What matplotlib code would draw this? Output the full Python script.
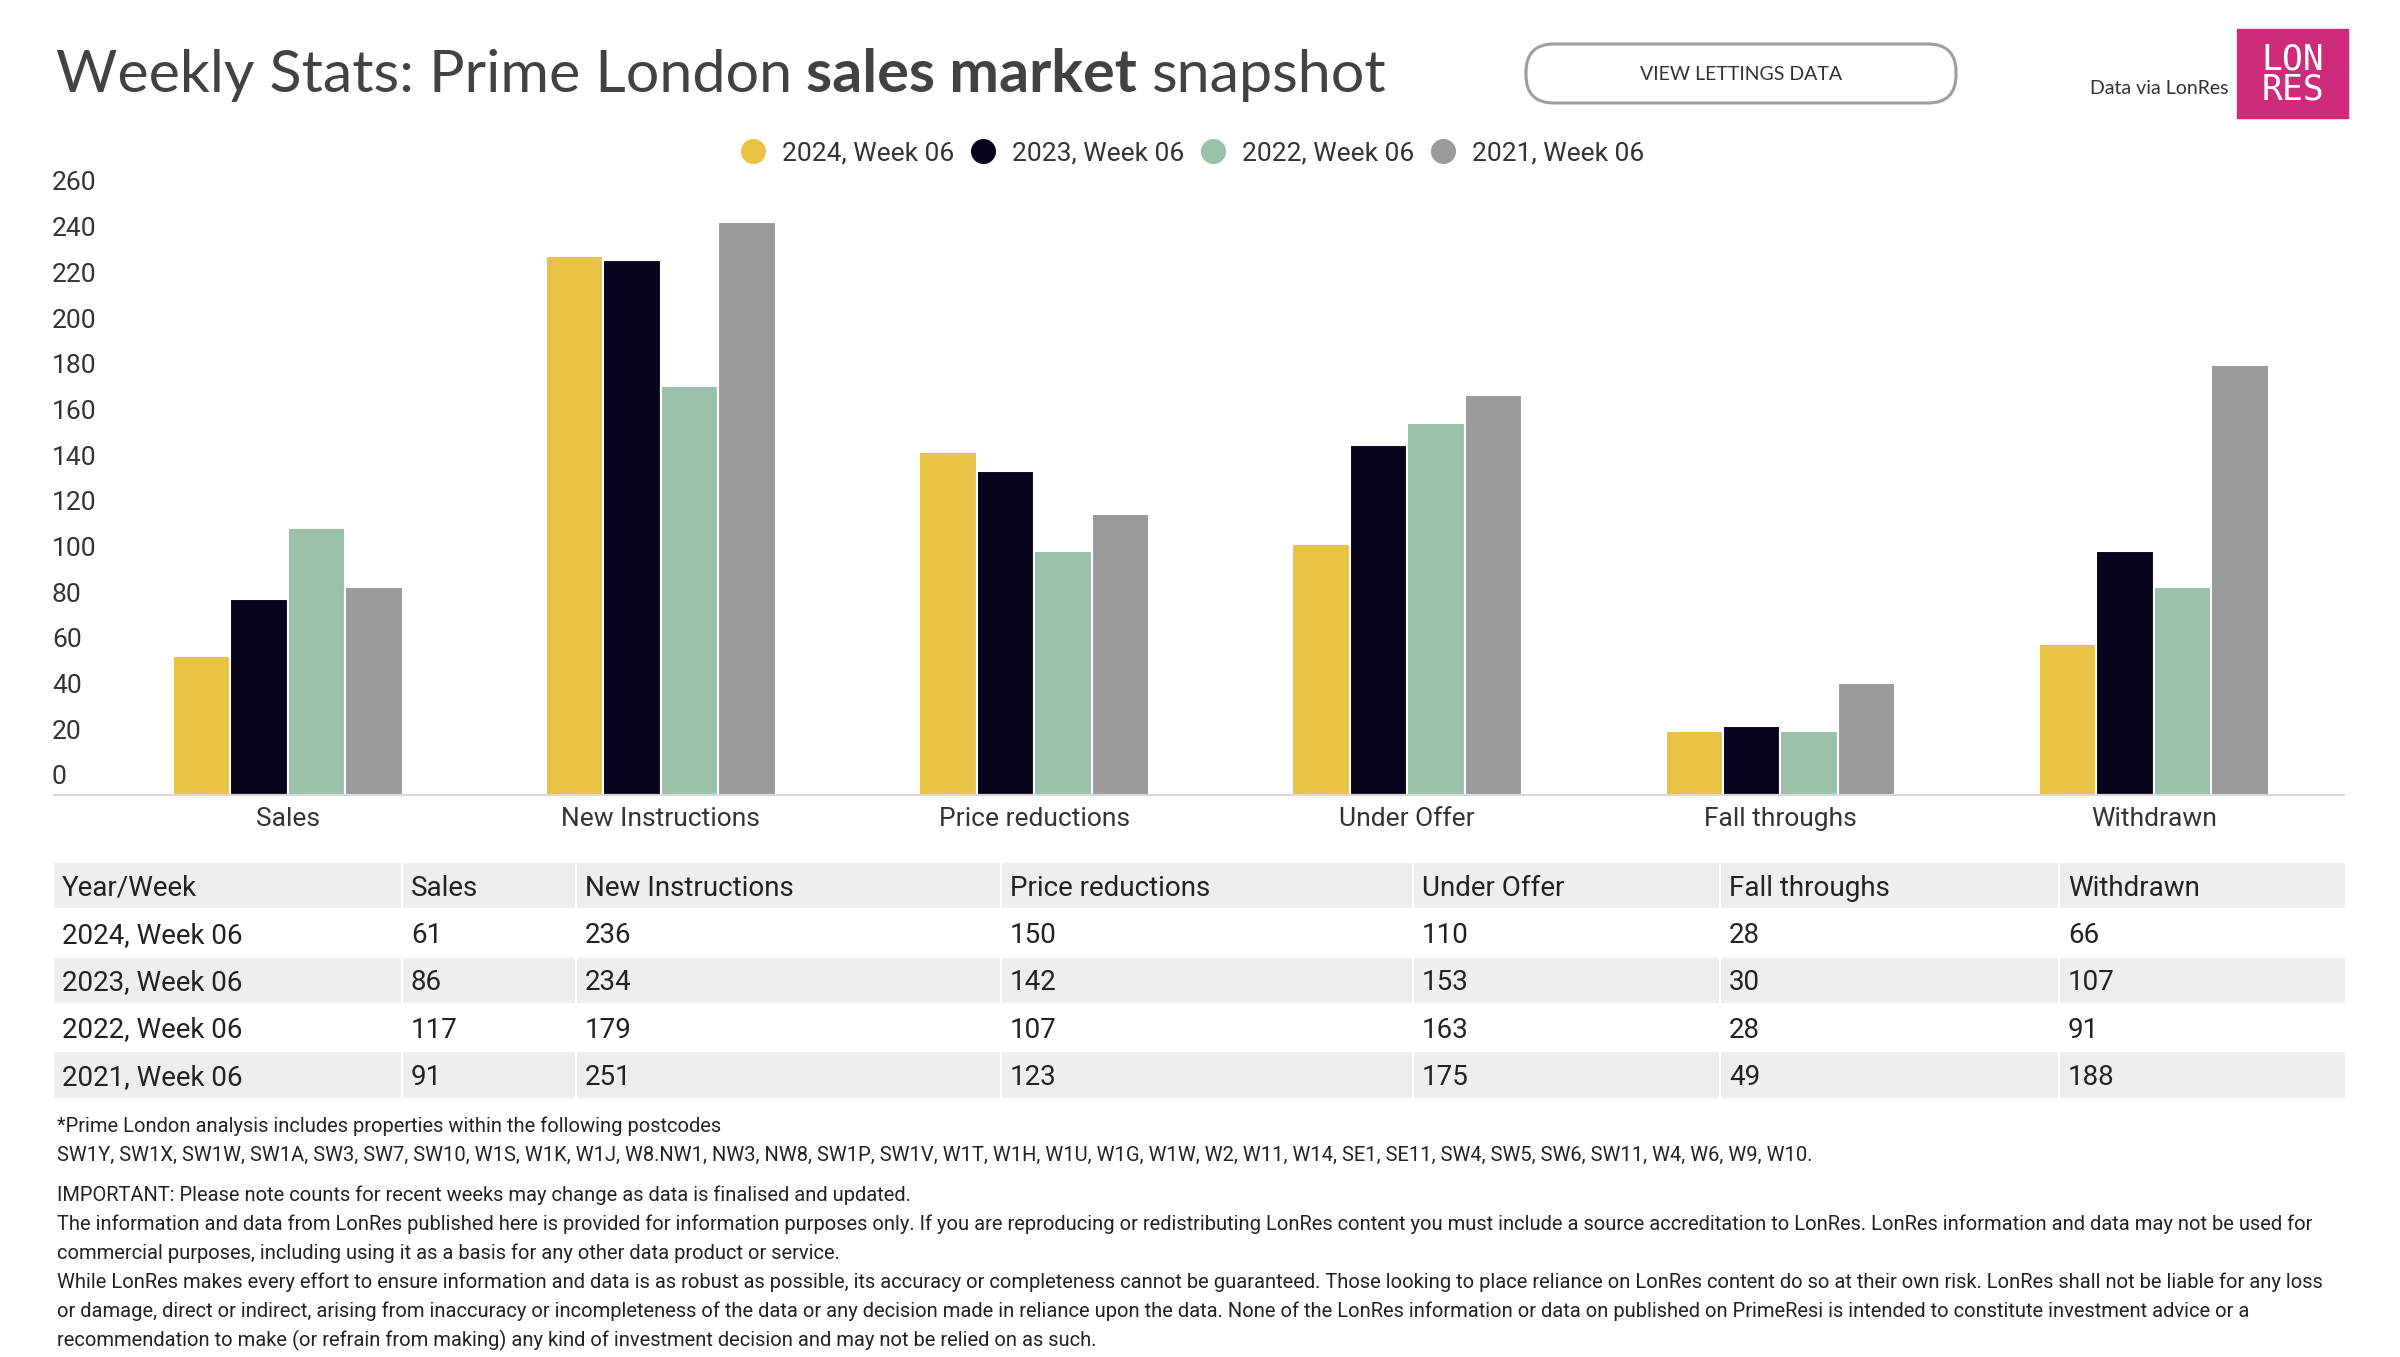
import matplotlib
matplotlib.use('Agg')
import matplotlib.pyplot as plt
from matplotlib.patches import Rectangle, FancyBboxPatch
from matplotlib.lines import Line2D
import matplotlib.transforms as mtransforms
import numpy as np

plt.rcParams['font.family'] = ['Roboto', 'DejaVu Sans']

# data
categories = ['Sales', 'New Instructions', 'Price reductions', 'Under Offer', 'Fall throughs', 'Withdrawn']
series_names = ['2024, Week 06', '2023, Week 06', '2022, Week 06', '2021, Week 06']
vals_2024 = [61, 236, 150, 110, 28, 66]
vals_2023 = [86, 234, 142, 153, 30, 107]
vals_2022 = [117, 179, 107, 163, 28, 91]
vals_2021 = [91, 251, 123, 175, 49, 188]
yticks = list(range(0, 261, 20))

colors = ['#E8C244', '#07051E', '#9AC1A9', '#9A9A9A']
txt = '#333333'

W, H = 2400, 1357
fig = plt.figure(figsize=(24, 13.57), dpi=100)


def box(l, t, r, b):
    # pixel box (top-left origin) -> figure fraction rect
    return [l / W, 1 - b / H, (r - l) / W, (b - t) / H]


# ---- bar chart ----
ax = fig.add_axes(box(54, 201, 2344, 795))
x = np.arange(len(categories))
w = 0.154
all_vals = [vals_2024, vals_2023, vals_2022, vals_2021]
for i, (vals, c, name) in enumerate(zip(all_vals, colors, series_names)):
    ax.bar(x + (i - 1.5) * w, vals, width=w, color=c, edgecolor='white',
           linewidth=1.5, label=name, zorder=2)

ax.set_xlim(-0.626, 5.51)
ax.set_ylim(0, 260)
for s in ['top', 'left', 'right']:
    ax.spines[s].set_visible(False)
ax.spines['bottom'].set_color('#D9D9D9')
ax.spines['bottom'].set_linewidth(1.5)

ax.set_yticks(yticks)
ax.set_yticklabels([str(v) for v in yticks])
ax.tick_params(axis='y', length=0, pad=1.5, labelsize=19, labelcolor=txt)
shift_up = mtransforms.ScaledTranslation(0, 4 / 72, fig.dpi_scale_trans)
for lab in ax.get_yticklabels():
    lab.set_ha('left')
    lab.set_va('bottom')
    lab.set_transform(lab.get_transform() + shift_up)

ax.set_xticks(x)
ax.set_xticklabels(categories)
ax.tick_params(axis='x', length=0, pad=8.5, labelsize=19, labelcolor=txt)

# legend with round markers
handles = [Line2D([], [], marker='o', ls='', color=c, markersize=17) for c in colors]
fig.legend(handles, series_names, loc='center', bbox_to_anchor=(1192 / W, 1 - 153 / H),
           ncol=4, frameon=False, fontsize=19, handlelength=1.0, handletextpad=0.6,
           columnspacing=0.6, labelcolor=txt)

# ---- overlay in pixel coords ----
bg = fig.add_axes([0, 0, 1, 1])
bg.set_xlim(0, W)
bg.set_ylim(H, 0)
bg.axis('off')

# title, bold middle part
t1 = bg.text(56, 92, 'Weekly Stats: Prime London', fontsize=42.7, family='Lato',
             color='#424242', va='baseline')
t2 = bg.annotate('sales market', xy=(1, 0), xycoords=t1, xytext=(10, 0),
                 textcoords='offset points', fontsize=42.7, family='Lato',
                 fontweight='bold', color='#424242', va='bottom')
bg.annotate('snapshot', xy=(1, 0), xycoords=t2, xytext=(10, 0),
            textcoords='offset points', fontsize=42.7, family='Lato',
            color='#424242', va='bottom')

# button
bg.add_patch(FancyBboxPatch((1526, 44), 430, 59, boxstyle='round,pad=0,rounding_size=28',
                            fc='white', ec='#9E9E9E', lw=2.2))
bg.text(1741, 74, 'VIEW LETTINGS DATA', fontsize=14, family='Lato', color=txt,
        ha='center', va='center')

# source + logo
bg.text(2228, 89, 'Data via LonRes', fontsize=14, family='Lato', color=txt,
        ha='right', va='center')
bg.add_patch(Rectangle((2237, 29), 111, 89, color='#CE2C7B'))
bg.text(2293, 59, 'LON', fontsize=25, family='DejaVu Sans Mono', color='white',
        ha='center', va='center')
bg.text(2293, 90, 'RES', fontsize=25, family='DejaVu Sans Mono', color='white',
        ha='center', va='center')

# ---- table ----
col_edges = [53, 402, 576, 1001, 1413, 1720, 2059, 2346]
row_edges = [862, 909, 957, 1004, 1051, 1099]
table_rows = [['Year/Week'] + categories]
for name, vals in zip(series_names, all_vals):
    table_rows.append([name] + [str(v) for v in vals])

for r, row in enumerate(table_rows):
    top, bot = row_edges[r], row_edges[r + 1]
    fill = '#EEEEEE' if r % 2 == 0 else 'white'
    for c, cell in enumerate(row):
        left, right = col_edges[c], col_edges[c + 1]
        bg.add_patch(Rectangle((left, top), right - left, bot - top, fc=fill,
                               ec='white', lw=1.5))
        bg.text(left + 9, (top + bot) / 2 + 10, cell, fontsize=20, color='#222222',
                va='baseline', ha='left')

# ---- footnotes ----
notes = [
    '*Prime London analysis includes properties within the following postcodes',
    'SW1Y, SW1X, SW1W, SW1A, SW3, SW7, SW10, W1S, W1K, W1J, W8.NW1, NW3, NW8, SW1P, SW1V, W1T, W1H, W1U, W1G, W1W, W2, W11, W14, SE1, SE11, SW4, SW5, SW6, SW11, W4, W6, W9, W10.',
    'IMPORTANT: Please note counts for recent weeks may change as data is finalised and updated.',
    'The information and data from LonRes published here is provided for information purposes only. If you are reproducing or redistributing LonRes content you must include a source accreditation to LonRes. LonRes information and data may not be used for',
    'commercial purposes, including using it as a basis for any other data product or service.',
    'While LonRes makes every effort to ensure information and data is as robust as possible, its accuracy or completeness cannot be guaranteed. Those looking to place reliance on LonRes content do so at their own risk. LonRes shall not be liable for any loss',
    'or damage, direct or indirect, arising from inaccuracy or incompleteness of the data or any decision made in reliance upon the data. None of the LonRes information or data on published on PrimeResi is intended to constitute investment advice or a',
    'recommendation to make (or refrain from making) any kind of investment decision and may not be relied on as such.',
]
note_y = [1126, 1155, 1195, 1224, 1253, 1282, 1311, 1340]
for s, yy in zip(notes, note_y):
    bg.text(57, yy, s, fontsize=14.5, color='#222222', va='center', ha='left')

fig.savefig('out.png', dpi=100, facecolor='white')
